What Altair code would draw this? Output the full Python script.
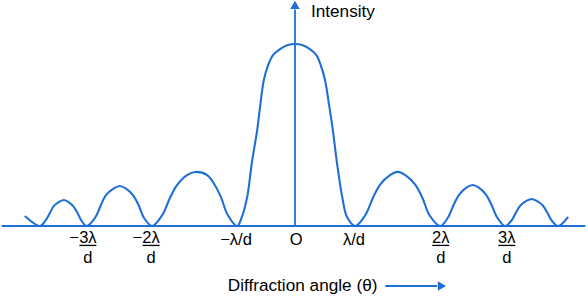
import altair as alt
import pandas as pd

# ---- intensity curve (theta in units of lambda/d, intensity relative to central max)
curve_x = [-4.58, -4.32,
           -4.23, -4.15, -4.09, -3.99, -3.92, -3.85, -3.76, -3.69, -3.62, -3.53,
           -3.39, -3.29, -3.21, -3.07, -2.97, -2.87, -2.74, -2.65, -2.56, -2.42,
           -2.25, -2.12, -2.00, -1.83, -1.69, -1.49, -1.36, -1.25, -1.14, -0.98,
           -0.90, -0.81, -0.73, -0.64, -0.59, -0.53, -0.46, -0.37, -0.24, -0.12, 0.00,
           0.12, 0.24, 0.36, 0.44, 0.51, 0.58, 0.64, 0.71, 0.80, 0.88, 1.02,
           1.19, 1.32, 1.44, 1.61, 1.74, 1.87, 2.04, 2.16, 2.28, 2.46,
           2.59, 2.69, 2.78, 2.91, 3.01, 3.11, 3.24, 3.33, 3.43, 3.56,
           3.67, 3.75, 3.82, 3.93, 4.01, 4.09, 4.20, 4.27, 4.35, 4.46,
           4.63]
curve_y = [0.055, 0.0,
           0.029, 0.074, 0.109, 0.134, 0.143, 0.134, 0.109, 0.074, 0.029, 0.0,
           0.044, 0.114, 0.167, 0.207, 0.220, 0.207, 0.167, 0.114, 0.044, 0.0,
           0.060, 0.154, 0.225, 0.280, 0.297, 0.280, 0.225, 0.154, 0.060, 0.0,
           0.05, 0.16, 0.35, 0.53, 0.66, 0.80, 0.88, 0.94, 0.975, 0.994, 1.00,
           0.994, 0.975, 0.94, 0.88, 0.80, 0.66, 0.53, 0.35, 0.16, 0.05, 0.0,
           0.059, 0.154, 0.226, 0.279, 0.297, 0.279, 0.226, 0.154, 0.059, 0.0,
           0.045, 0.117, 0.171, 0.212, 0.225, 0.212, 0.171, 0.117, 0.045, 0.0,
           0.030, 0.077, 0.112, 0.139, 0.148, 0.139, 0.112, 0.077, 0.030, 0.0,
           0.05]

# ---- tick labels
frac_pos = [-3.51, -2.44, 2.47, 3.59]
frac_num = ["3λ", "2λ", "2λ", "3λ"]
frac_sign = ["−", "−", "", ""]
frac_den = ["d", "d", "d", "d"]
single_pos = [-1.0, 0.02, 1.0]
single_text = ["−λ/d", "O", "λ/d"]

# ---- axis extents / annotation anchors (data units)
base_x = [-4.97, 4.92]
yaxis_top = [1.19]
yarrow_y = [1.215]
label_rows = {"num": -0.066, "den": -0.176, "bar": -0.107, "single": -0.077}
ylabel = ["Intensity"]
ylabel_pos = [(0.27, 1.176)]
xlabel = ["Diffraction angle (θ)"]
xlabel_pos = [(-1.14, -0.33)]
xarrow_x = [1.53, 2.41]
xarrow_head = [2.49]

BLUE = "#1f6fd4"
FONT = "Liberation Sans"
FS_TICK = 16.5
FS_TITLE = 17.2

XS = alt.Scale(domain=[-5.0, 4.966], nice=False, zero=False)
YS = alt.Scale(domain=[-0.385, 1.242], nice=False, zero=False)


def X(f):
    return alt.X(f, type="quantitative", scale=XS, axis=None)


def X2(f):
    return alt.X2(f)


def Y(f):
    return alt.Y(f, type="quantitative", scale=YS, axis=None)


curve_df = pd.DataFrame({"x": curve_x, "y": curve_y})
curve = alt.Chart(curve_df).mark_line(color=BLUE, strokeWidth=2.1, interpolate="catmull-rom").encode(
    x=X("x"), y=Y("y"))

base_df = pd.DataFrame({"x0": [base_x[0]], "x1": [base_x[1]], "y": [0.0]})
baseline = alt.Chart(base_df).mark_rule(color=BLUE, strokeWidth=2).encode(
    x=X("x0"), x2=X2("x1"), y=Y("y"))

yaxis_df = pd.DataFrame({"x": [0.0], "y0": [0.0], "y1": yaxis_top})
yaxis = alt.Chart(yaxis_df).mark_rule(color=BLUE, strokeWidth=1.8).encode(
    x=X("x"), y=Y("y0"), y2=alt.Y2("y1"))

yarrow_df = pd.DataFrame({"x": [0.0], "y": yarrow_y})
yarrow = alt.Chart(yarrow_df).mark_point(shape="triangle-up", filled=True, color=BLUE,
                                         size=90, opacity=1).encode(x=X("x"), y=Y("y"))

frac_df = pd.DataFrame({"x": frac_pos, "num": frac_num, "sign": frac_sign, "den": frac_den,
                        "yn": label_rows["num"], "yd": label_rows["den"], "yb": label_rows["bar"]})
num = alt.Chart(frac_df).mark_text(font=FONT, fontSize=FS_TICK, color="black", baseline="middle",
                                   align="center").encode(x=X("x"), y=Y("yn"), text="num:N")
sign = alt.Chart(frac_df).mark_text(font=FONT, fontSize=FS_TICK, color="black", baseline="middle",
                                    align="right", dx=-9).encode(x=X("x"), y=Y("yn"), text="sign:N")
den = alt.Chart(frac_df).mark_text(font=FONT, fontSize=FS_TICK, color="black", baseline="middle",
                                   align="center").encode(x=X("x"), y=Y("yd"), text="den:N")
bar = alt.Chart(frac_df).mark_rule(color="black", strokeWidth=1.3, xOffset=-8.5, x2Offset=8.5).encode(
    x=X("x"), x2=X2("x"), y=Y("yb"))

single_df = pd.DataFrame({"x": single_pos, "t": single_text, "y": label_rows["single"]})
single = alt.Chart(single_df).mark_text(font=FONT, fontSize=FS_TICK, color="black", baseline="middle",
                                        align="center").encode(x=X("x"), y=Y("y"), text="t:N")

ylab_df = pd.DataFrame({"x": [p[0] for p in ylabel_pos], "y": [p[1] for p in ylabel_pos], "t": ylabel})
ylab = alt.Chart(ylab_df).mark_text(font=FONT, fontSize=FS_TITLE, color="black", baseline="middle",
                                    align="left").encode(x=X("x"), y=Y("y"), text="t:N")

xlab_df = pd.DataFrame({"x": [p[0] for p in xlabel_pos], "y": [p[1] for p in xlabel_pos], "t": xlabel})
xlab = alt.Chart(xlab_df).mark_text(font=FONT, fontSize=FS_TITLE, color="black", baseline="middle",
                                    align="left").encode(x=X("x"), y=Y("y"), text="t:N")

xarrow_df = pd.DataFrame({"x0": [xarrow_x[0]], "x1": [xarrow_x[1]], "y": [xlabel_pos[0][1]]})
xarrow = alt.Chart(xarrow_df).mark_rule(color=BLUE, strokeWidth=1.8).encode(
    x=X("x0"), x2=X2("x1"), y=Y("y"))
xhead_df = pd.DataFrame({"x": xarrow_head, "y": [xlabel_pos[0][1]]})
xhead = alt.Chart(xhead_df).mark_point(shape="triangle-right", filled=True, color=BLUE,
                                       size=90, opacity=1).encode(x=X("x"), y=Y("y"))

chart = alt.layer(baseline, yaxis, yarrow, curve, num, sign, den, bar, single, ylab, xlab,
                  xarrow, xhead).properties(
    width=588, height=296, autosize=alt.AutoSizeParams(type="none"), padding=0,
    background="white"
).configure_view(stroke=None)

chart.save("out.html", embed_options={"renderer": "svg", "actions": False})
